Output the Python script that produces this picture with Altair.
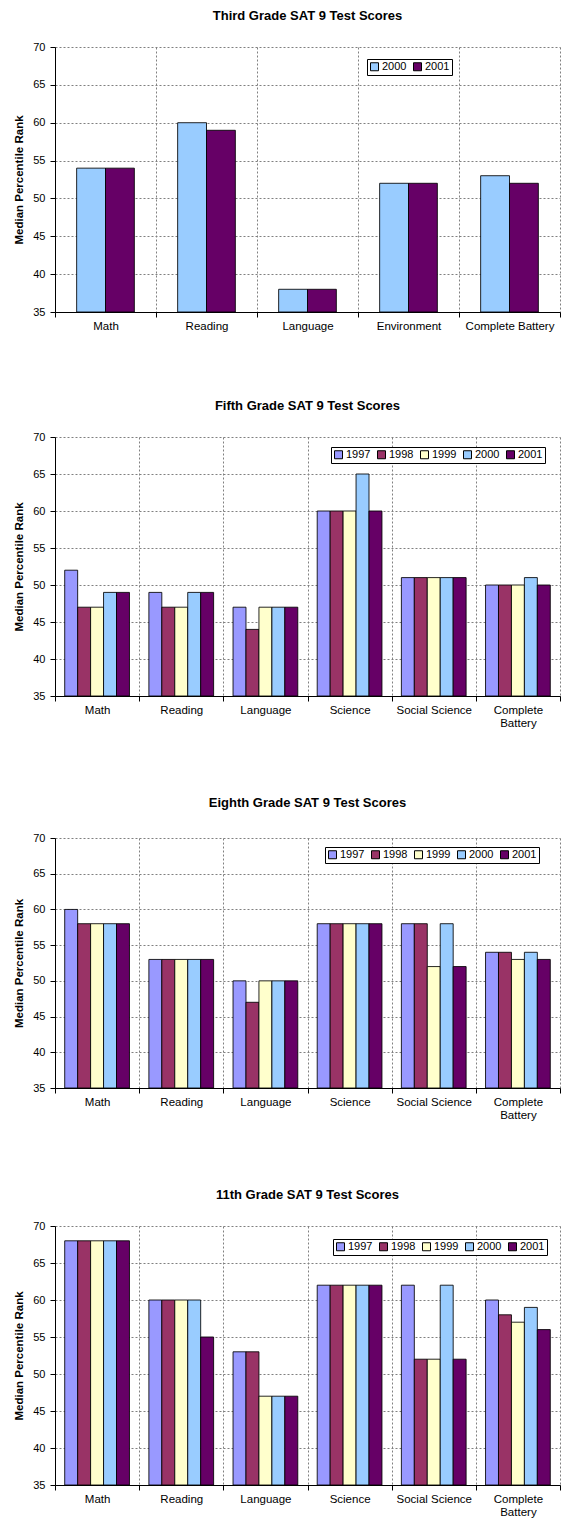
import altair as alt
import pandas as pd

FONT = "Liberation Sans"
W = 505

years5 = ["1997", "1998", "1999", "2000", "2001"]
colors5 = ["#9999FF", "#993366", "#FFFFCC", "#99CCFF", "#660066"]
years2 = ["2000", "2001"]
colors2 = ["#99CCFF", "#660066"]

cats_third = ["Math", "Reading", "Language", "Environment", "Complete Battery"]
third_2000 = [54, 60, 38, 52, 53]
third_2001 = [54, 59, 38, 52, 52]

cats = ["Math", "Reading", "Language", "Science", "Social Science", "Complete Battery"]
fifth_1997 = [52, 49, 47, 60, 51, 50]
fifth_1998 = [47, 47, 44, 60, 51, 50]
fifth_1999 = [47, 47, 47, 60, 51, 50]
fifth_2000 = [49, 49, 47, 65, 51, 51]
fifth_2001 = [49, 49, 47, 60, 51, 50]

eighth_1997 = [60, 53, 50, 58, 58, 54]
eighth_1998 = [58, 53, 47, 58, 58, 54]
eighth_1999 = [58, 53, 50, 58, 52, 53]
eighth_2000 = [58, 53, 50, 58, 58, 54]
eighth_2001 = [58, 53, 50, 58, 52, 53]

eleventh_1997 = [68, 60, 53, 62, 62, 60]
eleventh_1998 = [68, 60, 53, 62, 52, 58]
eleventh_1999 = [68, 60, 47, 62, 52, 57]
eleventh_2000 = [68, 60, 47, 62, 62, 59]
eleventh_2001 = [68, 55, 47, 62, 52, 56]


def panel(title, categories, series, years, colors, height, lx, ly, wrap, toff=18):
    rows = []
    for y, vals in zip(years, series):
        for c, v in zip(categories, vals):
            rows.append({"cat": c, "year": y, "value": v})
    df = pd.DataFrame(rows)
    if wrap:
        label_expr = "datum.label == 'Complete Battery' ? ['Complete', 'Battery'] : datum.label"
    else:
        label_expr = "datum.label"
    return alt.Chart(df).mark_bar(stroke="#000000", strokeWidth=1, strokeOpacity=0.85).encode(
        x=alt.X(
            "cat:N", sort=categories,
            scale=alt.Scale(paddingInner=0, paddingOuter=0),
            axis=alt.Axis(
                title=None, labelAngle=0, tickBand="extent", grid=True,
                gridDash=[2, 2], gridColor="#808080", gridWidth=1,
                domainColor="#000000", tickColor="#000000", tickSize=5,
                labelPadding=3, labelFontSize=11.5, labelFont=FONT,
                labelColor="#000000", labelExpr=label_expr, labelLineHeight=13,
            ),
        ),
        xOffset=alt.XOffset(
            "year:N", sort=years,
            scale=alt.Scale(paddingOuter=0.75, paddingInner=0),
        ),
        y=alt.Y(
            "value:Q",
            scale=alt.Scale(domain=[35, 70], zero=False, nice=False),
            axis=alt.Axis(
                values=list(range(35, 71, 5)), title="Median Percentile Rank",
                titleFont=FONT, titleFontSize=11.5, titleFontWeight="bold",
                titleColor="#000000", titlePadding=8,
                labelFont=FONT, labelFontSize=11, labelColor="#000000",
                labelPadding=5, tickSize=5, tickColor="#000000",
                domainColor="#000000", grid=True, gridDash=[2, 2],
                gridColor="#808080",
            ),
        ),
        y2=alt.datum(35),
        color=alt.Color(
            "year:N", sort=years,
            scale=alt.Scale(domain=years, range=colors),
            legend=alt.Legend(
                title=None, orient="none", legendX=lx, legendY=ly,
                direction="horizontal", symbolType="square", symbolSize=64,
                symbolStrokeColor="#000000", symbolStrokeWidth=1,
                labelFont=FONT, labelFontSize=11, labelColor="#000000",
                fillColor="#FFFFFF", strokeColor="#000000", padding=2,
                columnPadding=4, labelOffset=2,
            ),
        ),
    ).properties(
        width=W, height=height,
        title=alt.TitleParams(
            title, font=FONT, fontSize=13, fontWeight="bold", color="#000000",
            anchor="middle", offset=toff,
        ),
    )


p1 = panel("Third Grade SAT 9 Test Scores", cats_third, [third_2000, third_2001],
           years2, colors2, 265, 312, 12, False)
p2 = panel("Fifth Grade SAT 9 Test Scores", cats,
           [fifth_1997, fifth_1998, fifth_1999, fifth_2000, fifth_2001],
           years5, colors5, 259, 276, 10, True)
p3 = panel("Eighth Grade SAT 9 Test Scores", cats,
           [eighth_1997, eighth_1998, eighth_1999, eighth_2000, eighth_2001],
           years5, colors5, 250, 270, 9, True, toff=22)
p4 = panel("11th Grade SAT 9 Test Scores", cats,
           [eleventh_1997, eleventh_1998, eleventh_1999, eleventh_2000, eleventh_2001],
           years5, colors5, 259, 278, 13, True)

chart = alt.vconcat(p1, p2, p3, p4, spacing=68).resolve_scale(
    color="independent", x="independent", xOffset="independent"
).resolve_legend(color="independent").configure(
    padding={"left": 5, "top": 2, "right": 0, "bottom": 0}
).configure_view(stroke=None)

chart.save("out.html", embed_options={"renderer": "svg", "actions": False})
